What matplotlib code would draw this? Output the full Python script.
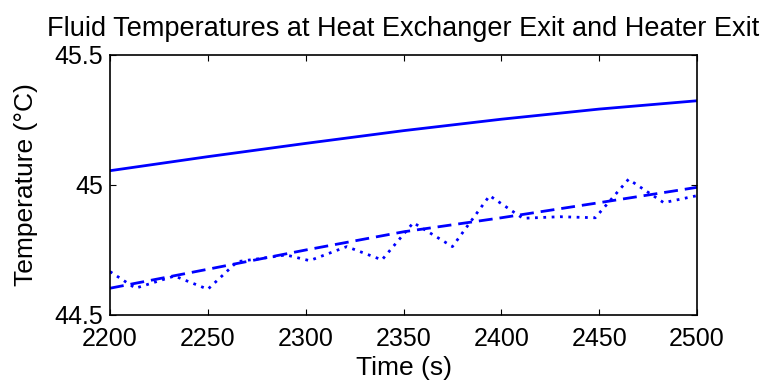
import matplotlib
matplotlib.use("Agg")
import matplotlib.pyplot as plt

plt.rcParams['font.family'] = ['Liberation Sans', 'DejaVu Sans']

# Heat exchanger exit (solid)
t_hx = [2200, 2250, 2300, 2350, 2400, 2450, 2500]
temp_hx = [45.055, 45.109, 45.160, 45.209, 45.253, 45.292, 45.324]

# Heater exit, model (dashed)
t_model = [2200, 2250, 2300, 2350, 2400, 2450, 2500]
temp_model = [44.603, 44.676, 44.750, 44.820, 44.874, 44.932, 44.991]

# Heater exit, measured (dotted)
t_meas = [2200, 2213, 2233, 2250, 2265, 2290, 2302, 2321, 2339, 2355,
          2375, 2394, 2411, 2430, 2448, 2465, 2483, 2500]
temp_meas = [44.667, 44.603, 44.650, 44.599, 44.705, 44.731, 44.709, 44.763,
             44.712, 44.855, 44.763, 44.959, 44.872, 44.878, 44.874, 45.022,
             44.932, 44.959]

fig = plt.figure(figsize=(7.65, 3.83), dpi=100)
ax = fig.add_axes([110 / 765, 1 - 315 / 383, 587 / 765, 260 / 383])

ax.plot(t_hx, temp_hx, color='blue', lw=2, linestyle='-')
ax.plot(t_model, temp_model, color='blue', lw=2, linestyle=(0, (5, 2.5)))
ax.plot(t_meas, temp_meas, color='blue', lw=2, linestyle=(0, (1, 2)))

ax.set_xlim(2200, 2500)
ax.set_ylim(44.5, 45.5)
ax.set_xticks([2200, 2250, 2300, 2350, 2400, 2450, 2500])
ax.set_yticks([44.5, 45, 45.5])
ax.set_yticklabels(['44.5', '45', '45.5'])
ax.tick_params(direction='in', top=True, right=True, length=4, labelsize=18)
ax.tick_params(axis='x', pad=9)
ax.tick_params(axis='y', pad=5)
for s in ax.spines.values():
    s.set_linewidth(1.2)

ax.set_xlabel('Time (s)', fontsize=19, labelpad=3)
ax.set_ylabel('Temperature (\u00b0C)', fontsize=19, labelpad=12)
ax.set_title('Fluid Temperatures at Heat Exchanger Exit and Heater Exit', fontsize=19.5, pad=14)

fig.savefig('out.png', dpi=100)
